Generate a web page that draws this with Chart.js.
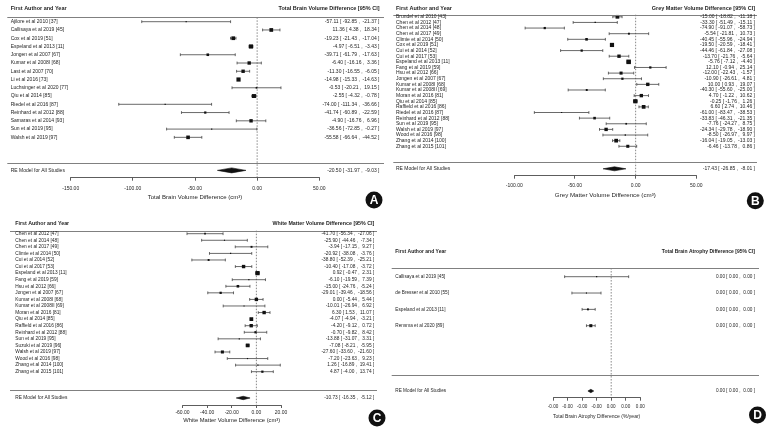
<!DOCTYPE html>
<html>
<head>
<meta charset="utf-8">
<script src="https://cdn.jsdelivr.net/npm/chart.js@4.4.1/dist/chart.umd.min.js"></script>
<style>
  body { margin: 0; background: #fff; }
  #wrap { position: relative; width: 772px; height: 433px; }
  canvas { position: absolute; }
</style>
</head>
<body>
<div id="wrap">
  <canvas id="chartA" width="386" height="210" style="left:0;top:0"></canvas>
  <canvas id="chartB" width="386" height="210" style="left:386px;top:0"></canvas>
  <canvas id="chartC" width="386" height="223" style="left:0;top:210px"></canvas>
  <canvas id="chartD" width="386" height="223" style="left:386px;top:210px"></canvas>
</div>
<script>
// A - total brain volume
const studiesA = ['Ajilore et al 2010 [37]', 'Callisaya et al 2019 [45]', 'Cox et al 2019 [51]', 'Espeland et al 2013 [11]',
  'Jongen et al 2007 [67]', 'Kumar et al 2008I [68]', 'Last et al 2007 [70]', 'Li et al 2016 [73]',
  'Luchsinger et al 2020 [77]', 'Qiu et al 2014 [85]', 'Riedel et al 2016 [87]', 'Reinhard et al 2012 [88]',
  'Samaras et al 2014 [93]', 'Sun et al 2019 [95]', 'Walsh et al 2019 [97]']
const estA = [-57.11, 11.36, -19.23, -4.97, -39.71, -6.40, -11.30, -14.98, -0.53, -2.55, -74.00, -41.74, -4.90, -36.56, -55.58]
const lowA = [-92.85, 4.38, -21.43, -6.51, -61.79, -16.16, -16.55, -15.33, -20.21, -4.32, -111.34, -60.89, -16.76, -72.85, -66.64]
const highA = [-21.37, 18.34, -17.04, -3.43, -17.63, 3.36, -6.05, -14.63, 19.15, -0.78, -36.66, -22.59, 6.96, -0.27, -44.52]
const weightA = [0.8, 8.2, 8.2, 10.4, 4.0, 6.8, 6.8, 10.4, 1.7, 9.3, 0.8, 3.0, 6.8, 0.8, 7.7]
const summaryA = [-20.50, -31.97, -9.03]
const ticksA = [-150, -100, -50, 0, 50]

// B - grey matter volume
const studiesB = ['Brundel et al 2010 [43]', 'Chen et al 2012 [47]', 'Chen et al 2014 [48]', 'Chen et al 2017 [49]',
  'Climie et al 2014 [50]', 'Cox et al 2019 [51]', 'Cui et al 2014 [52]', 'Cui et al 2017 [53]',
  'Espeland et al 2013 [11]', 'Fang et al 2019 [59]', 'Hsu et al 2012 [66]', 'Jongen et al 2007 [67]',
  'Kumar et al 2008I [68]', 'Kumar et al 2008II [69]', 'Moran et al 2016 [81]', 'Qiu et al 2014 [85]',
  'Raffield et al 2016 [86]', 'Riedel et al 2016 [87]', 'Reinhard et al 2012 [88]', 'Sun et al 2019 [95]',
  'Walsh et al 2019 [97]', 'Wood et al 2016 [98]', 'Zhang et al 2014 [100]', 'Zhang et al 2015 [101]']
const estB = [-15.00, -33.30, -74.90, -5.54, -40.45, -19.50, -44.46, -13.70, -5.76, 12.10, -12.00, -10.90,
  10.00, -40.30, 4.70, -0.25, 6.60, -61.00, -33.83, -7.76, -24.34, -8.50, -16.04, -6.46]
const lowB = [-18.82, -51.49, -91.07, -21.81, -55.96, -20.59, -61.84, -21.76, -7.12, -0.94, -22.43, -26.61,
  0.93, -55.60, -1.22, -1.76, 2.74, -83.47, -46.31, -24.27, -29.78, -26.97, -19.05, -13.78]
const highB = [-11.18, -15.11, -58.73, 10.73, -24.94, -18.41, -27.08, -5.64, -4.40, 25.14, -1.57, 4.81,
  19.07, -25.00, 10.62, 1.26, 10.46, -38.53, -21.35, 8.75, -18.90, 9.97, -13.03, 0.86]
const weightB = [8.2, 1.1, 3.0, 2.2, 4.0, 10.4, 3.0, 6.8, 12.1, 3.0, 5.5, 3.0, 6.8, 2.2, 6.8, 10.4, 8.2, 0.8,
  4.0, 1.7, 6.8, 1.1, 8.2, 5.5]
const summaryB = [-17.43, -26.85, -8.01]
const ticksB = [-100, -50, 0, 50]

// C - white matter volume
const studiesC = ['Chen et al 2012 [47]', 'Chen et al 2014 [48]', 'Chen et al 2017 [49]', 'Climie et al 2014 [50]',
  'Cui et al 2014 [52]', 'Cui et al 2017 [53]', 'Espeland et al 2013 [11]', 'Fang et al 2019 [59]',
  'Hsu et al 2012 [66]', 'Jongen et al 2007 [67]', 'Kumar et al 2008I [68]', 'Kumar et al 2008II [69]',
  'Moran et al 2016 [81]', 'Qiu et al 2014 [85]', 'Raffield et al 2016 [86]', 'Reinhard et al 2012 [88]',
  'Sun et al 2019 [95]', 'Suzuki et al 2019 [96]', 'Walsh et al 2019 [97]', 'Wood et al 2016 [98]',
  'Zhang et al 2014 [100]', 'Zhang et al 2015 [101]']
const estC = [-41.70, -25.90, -3.94, -20.92, -38.80, -10.40, 0.92, -6.10, -15.00, -29.01, 0.00, -10.01,
  6.30, -4.07, -4.20, -0.70, -13.88, -7.08, -27.60, -7.20, 1.26, 4.87]
const lowC = [-56.34, -44.46, -17.15, -38.08, -52.39, -17.08, -0.47, -19.59, -24.76, -39.46, -5.44, -26.94,
  1.53, -4.94, -9.12, -9.82, -31.07, -8.21, -33.60, -23.63, -16.89, -4.00]
const highC = [-27.06, -7.34, 9.27, -3.76, -25.21, -3.72, 2.31, 7.39, -5.24, -18.56, 5.44, 6.92,
  11.07, -3.21, 0.72, 8.42, 3.31, -5.95, -21.60, 9.23, 19.41, 13.74]
const weightC = [1.7, 0.8, 2.2, 0.8, 2.2, 6.8, 10.4, 0.8, 4.0, 3.0, 6.8, 0.8, 6.8, 8.2, 6.8, 3.0, 0.8, 8.2,
  5.5, 0.8, 0.8, 3.0]
const summaryC = [-10.73, -16.35, -5.12]
const ticksC = [-60, -40, -20, 0, 20]

// D - total brain atrophy (%/year)
const studiesD = ['Callisaya et al 2019 [45]', 'de Bresser et al 2010 [55]', 'Espeland et al 2013 [11]', 'Rensma et al 2020 [89]']
const estD = [-0.0010, -0.0017, -0.0016, -0.0014]
const lowD = [-0.0032, -0.0027, -0.0020, -0.0017]
const highD = [0.0012, -0.0007, -0.0011, -0.0011]
const weightD = [0.8, 0.8, 2.2, 5.5]
const summaryD = [-0.0014, -0.0016, -0.0012]
const ticksD = [-0.004, -0.003, -0.002, -0.001, 0, 0.001, 0.002]

const FAMILY = '"Liberation Sans", Arial, sans-serif'
const TEXT = '#1e1e1e'

function fmt(v) {
  const s = v.toFixed(2)
  return s === '-0.00' ? '0.00' : s
}

function textPlugin(d) {
  return {
    id: 'forestText',
    afterDraw(chart) {
      const ctx = chart.ctx
      const y = chart.scales.y
      const py = v => y.getPixelForValue(v)
      ctx.save()
      // header and footer rules
      ctx.strokeStyle = '#808080'
      ctx.lineWidth = 1
      ;[d.headRule, d.footRule].forEach(r => {
        const yy = Math.round(py(r)) + 0.5
        ctx.beginPath()
        ctx.moveTo(d.ruleLeft, yy)
        ctx.lineTo(d.ruleRight, yy)
        ctx.stroke()
      })
      ctx.fillStyle = TEXT
      ctx.textBaseline = 'middle'
      ctx.font = 'bold ' + d.headFont + 'px ' + FAMILY
      ctx.textAlign = 'left'
      ctx.fillText('First Author and Year', d.labelX, py(d.headRow))
      ctx.textAlign = 'right'
      ctx.fillText(d.headRight, d.estRight, py(d.headRow))

      ctx.font = d.font + 'px ' + FAMILY
      d.studies.forEach((s, i) => {
        ctx.textAlign = 'left'
        ctx.fillText(s, d.labelX, py(i))
        ctx.textAlign = 'right'
        ctx.fillText(fmt(d.est[i]) + ' [ ' + fmt(d.low[i]) + ' ,  ' + fmt(d.high[i]) + ' ]', d.estRight, py(i))
      })
      ctx.textAlign = 'left'
      ctx.fillText('RE Model for All Studies', d.labelX, py(d.reRow))
      ctx.textAlign = 'right'
      const [e, lo, hi] = d.summary
      ctx.fillText(fmt(e) + ' [ ' + fmt(lo) + ' ,  ' + fmt(hi) + ' ]', d.estRight, py(d.reRow))

      // panel badge
      ctx.fillStyle = '#111'
      ctx.beginPath()
      ctx.arc(d.badge.x, d.badge.y, 8.5, 0, Math.PI * 2)
      ctx.fill()
      ctx.fillStyle = '#fff'
      ctx.textAlign = 'center'
      ctx.font = 'bold 12px ' + FAMILY
      ctx.fillText(d.badge.letter, d.badge.x, d.badge.y + 0.5)
      ctx.restore()
    }
  }
}

function forestPanel(id, d) {
  const plotBottom = d.height - d.axisHeight
  const yMin = -d.rowTop / d.rowStep
  const yMax = (plotBottom - d.rowTop) / d.rowStep
  const rows = d.studies.map((s, i) => i)

  const ciData = []
  rows.forEach(i => {
    ciData.push({x: d.low[i], y: i}, {x: d.high[i], y: i}, {x: d.high[i], y: null})
  })
  const dh = d.diamondPx / d.rowStep
  const [sEst, sLo, sHi] = d.summary
  const diamond = [
    {x: sLo, y: d.reRow}, {x: sEst, y: d.reRow - dh}, {x: sHi, y: d.reRow},
    {x: sEst, y: d.reRow + dh}, {x: sLo, y: d.reRow}
  ]

  new Chart(document.getElementById(id), {
    type: 'line',
    data: {
      datasets: [
        {
          data: rows.map(i => ({x: d.est[i], y: i})),
          showLine: false,
          pointStyle: 'rect',
          // square side grows with the study weight
          pointRadius: d.weight.map(w => 1.3 * Math.sqrt(w) / Math.SQRT2),
          pointBackgroundColor: '#111',
          pointBorderWidth: 0,
          clip: false,
        },
        {
          data: diamond,
          fill: 'shape',
          backgroundColor: '#111',
          borderColor: '#111',
          borderWidth: 0.6,
          pointRadius: 0,
          tension: 0,
          clip: false,
        },
        {
          data: ciData,
          borderColor: '#444',
          borderWidth: 0.8,
          pointStyle: 'line',
          pointRotation: 90,
          pointRadius: 1.4,
          pointBorderColor: '#444',
          pointBorderWidth: 0.8,
          spanGaps: false,
          clip: false,
        },
        {
          data: [{x: 0, y: d.headRule}, {x: 0, y: yMax}],
          borderColor: '#555',
          borderWidth: 0.7,
          borderDash: [1.5, 1.5],
          pointRadius: 0,
          clip: false,
        },
      ],
    },
    options: {
      responsive: false,
      animation: false,
      events: [],
      layout: {
        autoPadding: false,
        padding: {left: d.plotLeft, right: d.width - d.plotRight, top: 0, bottom: 0},
      },
      plugins: {
        legend: {display: false},
        tooltip: {enabled: false},
      },
      scales: {
        x: {
          type: 'linear',
          min: d.ticks[0],
          max: d.ticks[d.ticks.length - 1],
          afterBuildTicks: s => {
            s.ticks = d.ticks.map(v => ({value: v}))
          },
          afterFit: s => {
            s.height = d.axisHeight
            s.paddingLeft = 0
            s.paddingRight = 0
          },
          ticks: {
            autoSkip: false,
            maxRotation: 0,
            padding: d.tickPad,
            color: TEXT,
            font: {family: FAMILY, size: d.tickFont},
            callback: v => Number(v).toFixed(2),
          },
          grid: {display: true, drawOnChartArea: false, drawTicks: true, tickLength: 3, color: '#333', lineWidth: 0.8},
          border: {display: true, color: '#333', width: 0.8},
          title: {
            display: true,
            text: d.axisTitle,
            color: TEXT,
            font: {family: FAMILY, size: d.titleFont},
            padding: {top: 0, bottom: d.titlePad},
          },
        },
        y: {
          type: 'linear',
          display: false,
          reverse: true,
          min: yMin,
          max: yMax,
        },
      },
    },
    plugins: [textPlugin(d)],
  })
}

forestPanel('chartA', {
  studies: studiesA, est: estA, low: lowA, high: highA, weight: weightA, summary: summaryA, ticks: ticksA,
  headRight: 'Total Brain Volume Difference [95% CI]',
  axisTitle: 'Total Brain Volume Difference (cm³)',
  width: 386, height: 210, plotLeft: 70.7, plotRight: 319.3, axisHeight: 32.3,
  rowTop: 21.7, rowStep: 8.26, headRow: -1.54, headRule: -0.53, footRule: 17.07, reRow: 18,
  labelX: 10.7, estRight: 379.5, ruleLeft: 7.3, ruleRight: 384,
  font: 5, headFont: 5.5, tickFont: 5, tickPad: 4.6, titleFont: 6, titlePad: 8.7, diamondPx: 2.5,
  badge: {x: 374, y: 200, letter: 'A'},
})

forestPanel('chartB', {
  studies: studiesB, est: estB, low: lowB, high: highB, weight: weightB, summary: summaryB, ticks: ticksB,
  headRight: 'Grey Matter Volume Difference [95% CI]',
  axisTitle: 'Grey Matter Volume Difference (cm³)',
  width: 386, height: 210, plotLeft: 128.3, plotRight: 310.3, axisHeight: 34.3,
  rowTop: 16.8, rowStep: 5.63, headRow: -1.39, headRule: -0.37, footRule: 25.8, reRow: 27,
  labelX: 10, estRight: 369, ruleLeft: 7.3, ruleRight: 371,
  font: 5, headFont: 5.5, tickFont: 5, tickPad: 4, titleFont: 6.2, titlePad: 11.4, diamondPx: 2,
  badge: {x: 369.3, y: 200.7, letter: 'B'},
})

forestPanel('chartC', {
  studies: studiesC, est: estC, low: lowC, high: highC, weight: weightC, summary: summaryC, ticks: ticksC,
  headRight: 'White Matter Volume Difference [95% CI]',
  axisTitle: 'White Matter Volume Difference (cm³)',
  width: 386, height: 223, plotLeft: 182.5, plotRight: 281, axisHeight: 28,
  rowTop: 23.7, rowStep: 6.571, headRow: -1.48, headRule: -0.46, footRule: 23.83, reRow: 25,
  labelX: 15.3, estRight: 374.3, ruleLeft: 10, ruleRight: 377,
  font: 4.8, headFont: 5.3, tickFont: 5, tickPad: 2, titleFont: 5.8, titlePad: 8.7, diamondPx: 1.7,
  badge: {x: 377, y: 208, letter: 'C'},
})

forestPanel('chartD', {
  studies: studiesD, est: estD, low: lowD, high: highD, weight: weightD, summary: summaryD, ticks: ticksD,
  headRight: 'Total Brain Atrophy Difference [95% CI]',
  axisTitle: 'Total Brain Atrophy Difference (%/year)',
  width: 386, height: 223, plotLeft: 167, plotRight: 254.3, axisHeight: 35.3,
  rowTop: 66.7, rowStep: 16.33, headRow: -1.53, headRule: -0.53, footRule: 6.0, reRow: 7,
  labelX: 9.3, estRight: 369, ruleLeft: 5.7, ruleRight: 373,
  font: 4.7, headFont: 5, tickFont: 4.6, tickPad: 3, titleFont: 5.6, titlePad: 13.4, diamondPx: 1.7,
  badge: {x: 371.5, y: 205, letter: 'D'},
})
</script>
</body>
</html>
